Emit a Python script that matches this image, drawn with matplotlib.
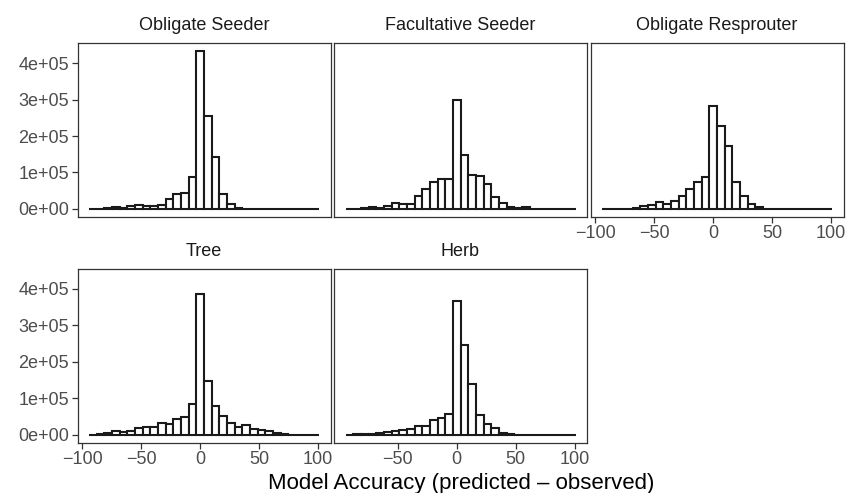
import matplotlib
matplotlib.use('Agg')
import matplotlib.pyplot as plt
import numpy as np

plt.rcParams['font.family'] = ['Liberation Sans', 'DejaVu Sans']

# histogram bins: 30 bins of width 6.5 centred on multiples of 6.5
bin_width = 6.5
bin_index = list(range(-14, 16))

panel_titles = ['Obligate Seeder', 'Facultative Seeder', 'Obligate Resprouter', 'Tree', 'Herb']

obligate_seeder = [0, 500, 1500, 5000, 3000, 9000, 11000, 7000, 7000, 12000, 28000, 42000, 45000, 87000,
                   433000, 256000, 143000, 40000, 13000, 2000, 500, 0, 0, 0, 0, 0, 0, 0, 0, 0]
facultative_seeder = [500, 1000, 1500, 4000, 2000, 8000, 15000, 13000, 13000, 36000, 55000, 74000, 82000, 82000,
                      298000, 147000, 93000, 91000, 69000, 33000, 15000, 6000, 2000, 4000, 500, 0, 0, 0, 0, 0]
obligate_resprouter = [0, 0, 500, 500, 2000, 7000, 11000, 18000, 14000, 22000, 36000, 55000, 73000, 87000,
                       283000, 228000, 174000, 74000, 36000, 14000, 5000, 0, 0, 0, 0, 0, 0, 0, 0, 0]
tree = [0, 1000, 4000, 9000, 7000, 11000, 19000, 20000, 21000, 33000, 30000, 44000, 48000, 84000,
        387000, 147000, 79000, 50000, 31000, 21000, 26000, 16000, 14000, 11000, 5000, 2000, 0, 0, 0, 0]
herb = [0, 1000, 2000, 3000, 5000, 7000, 10000, 14000, 15000, 24000, 24000, 39000, 46000, 57000,
        367000, 245000, 139000, 54000, 29000, 19000, 5000, 2000, 0, 0, 0, 0, 0, 0, 0, 0]

x_ticks = [-100, -50, 0, 50, 100]
y_ticks = [0, 100000, 200000, 300000, 400000]

W, H = 848, 493
fig = plt.figure(figsize=(W / 100, H / 100), dpi=100)

col_left = [77.5, 334, 590.5]
row_top = [43.3, 269]
pw, ph = 253, 173.5

centers = np.array(bin_index) * bin_width
edges_lo, edges_hi = centers.min() - bin_width / 2, centers.max() + bin_width / 2
xpad = (edges_hi - edges_lo) * 0.05
ymax = max(max(s) for s in [obligate_seeder, facultative_seeder, obligate_resprouter, tree, herb])
ypad = ymax * 0.05

tick_color = '#4D4D4D'
frame_color = '#333333'

series = [obligate_seeder, facultative_seeder, obligate_resprouter, tree, herb]
slots = [(0, 0), (0, 1), (0, 2), (1, 0), (1, 1)]

for title, counts, (r, c) in zip(panel_titles, series, slots):
    left = col_left[c] / W
    bottom = 1 - (row_top[r] + ph) / H
    ax = fig.add_axes([left, bottom, pw / W, ph / H])
    ax.bar(centers, counts, width=bin_width, facecolor='white', edgecolor='#1A1A1A', linewidth=1.5)
    ax.set_xlim(edges_lo - xpad, edges_hi + xpad)
    ax.set_ylim(-ypad, ymax + ypad)
    ax.set_xticks(x_ticks)
    ax.set_yticks(y_ticks)
    ax.yaxis.set_major_formatter(plt.FuncFormatter(lambda v, p: f'{v:.0e}'))
    for s in ax.spines.values():
        s.set_color(frame_color)
        s.set_linewidth(0.9)
    ax.tick_params(colors=frame_color, labelcolor=tick_color, labelsize=13, length=4, width=0.9, pad=2)
    show_x = (r == 1) or (c == 2)
    show_y = (c == 0)
    ax.tick_params(axis='x', bottom=show_x, labelbottom=show_x)
    ax.tick_params(axis='y', left=show_y, labelleft=show_y)
    if r == 1 and c == 1:
        # the -100 label would sit on top of the neighbour's "100"
        ax.set_xticks(x_ticks[1:])
    ax.text(0.5, 1 + 18 / ph, title, transform=ax.transAxes, ha='center', va='center',
            fontsize=13, color='#1A1A1A')

fig.text((77.5 + 844) / 2 / W, 1 - 483 / H, 'Model Accuracy (predicted \u2013 observed)',
         ha='center', va='center', fontsize=16, color='black')

fig.savefig('out.png', dpi=100)
